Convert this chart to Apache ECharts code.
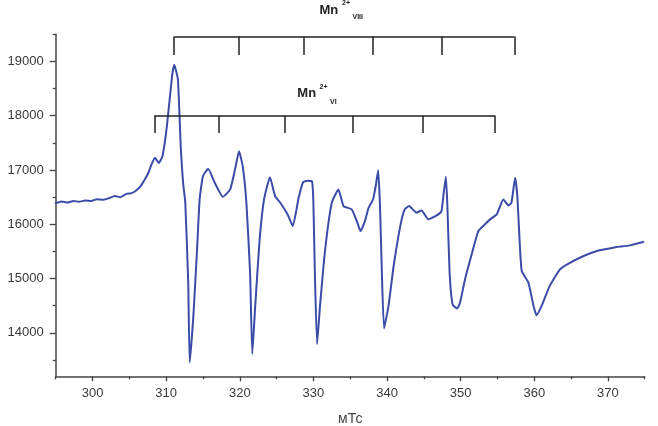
<!DOCTYPE html>
<html><head><meta charset="utf-8">
<script src="https://cdn.jsdelivr.net/npm/echarts@6/dist/echarts.min.js"></script>
<style>html,body{margin:0;padding:0;background:#fff}#c{width:658px;height:426px}</style>
</head><body><div id="c"></div>
<script>
// Magnetic field, mT
const fieldMT = [295.0,295.8,296.6,297.4,298.2,299.0,299.8,300.6,301.4,302.2,303.05,303.8,304.6,305.2,305.8,306.5,307.1,307.6,308.0,308.5,309.0,309.5,310.1,310.8,311.1,311.6,312.0,312.3,312.6,313.0,313.2,313.7,314.2,314.55,315.0,315.7,316.6,317.7,318.7,319.4,319.9,320.4,320.9,321.4,321.7,322.1,322.7,323.3,324.1,324.8,325.5,326.5,327.2,328.0,328.6,329.2,329.8,330.0,330.2,330.5,330.9,331.6,332.5,333.4,334.1,335.2,335.9,336.4,337.0,337.5,338.1,338.5,338.8,339.05,339.3,339.6,340.2,340.9,341.8,342.4,343.0,344.0,344.7,345.6,346.75,347.4,347.7,348.0,348.2,348.5,348.9,349.5,349.9,350.6,351.5,352.4,353.3,354.0,354.9,355.8,356.5,356.9,357.4,357.7,358.0,358.3,359.2,359.9,360.3,361.0,362.1,363.5,364.9,366.7,368.5,370.7,373.0,374.8];
// EPR signal intensity
const intensity = [16390,16420,16400,16430,16415,16440,16430,16460,16450,16480,16520,16500,16560,16570,16610,16700,16826,16950,17100,17224,17130,17254,17805,18724,18940,18664,17377,16765,16400,14927,13457,14313,15539,16458,16886,17022,16765,16507,16642,17040,17346,17070,16397,15111,13610,14497,15723,16458,16868,16519,16397,16182,15967,16489,16776,16800,16794,16397,15111,13793,14497,15539,16397,16642,16335,16274,16059,15875,16059,16305,16458,16734,16997,16335,15111,14082,14497,15232,15967,16274,16335,16214,16256,16091,16164,16243,16581,16875,16335,15111,14528,14449,14546,14988,15447,15875,16000,16091,16182,16458,16348,16397,16857,16519,15723,15141,14927,14497,14326,14497,14865,15171,15294,15416,15508,15570,15612,15673];

const xTickLabels = [300,310,320,330,340,350,360,370];
const xMinorTicks = [295,305,315,325,335,345,355,365,375];
const yTickLabels = [14000,15000,16000,17000,18000,19000];
const yMinorTicks = [13500,14500,15500,16500,17500,18500,19500];

// Hyperfine sextet markers
const mnVIIIPos = [311.1,319.8,328.7,338.0,347.5,357.3];
const mnVIIILevel = 19460, mnVIIITickEnd = 19120;
const mnVIPos = [308.4,317.1,326.1,335.4,344.9,354.7];
const mnVILevel = 18000, mnVITickEnd = 17680;

function bracket(pos, level, tickEnd){
  const out = [[{coord:[pos[0],level]},{coord:[pos[pos.length-1],level]}]];
  pos.forEach(p=>out.push([{coord:[p,level]},{coord:[p,tickEnd]}]));
  return out;
}

const chart = echarts.init(document.getElementById('c'), null, {renderer:'canvas'});
const axisCol = '#444';
const lblStyle = {color:'#3a3a3a', fontSize:13, fontFamily:'Liberation Sans, Arial, sans-serif'};
chart.setOption({
  animation:false,
  grid:{left:55.7, right:13.3, top:34.3, bottom:49.7, containLabel:false, outerBoundsMode:'none'},
  xAxis:[{
    type:'value', min:295, max:375, position:'bottom',
    axisLine:{show:true, lineStyle:{color:axisCol, width:1.5}},
    axisTick:{show:true, inside:false, length:5, customValues:xTickLabels, lineStyle:{color:axisCol, width:1.3}},
    axisLabel:{...lblStyle, margin:11, customValues:xTickLabels, formatter:v=>String(v)},
    splitLine:{show:false},
    name:'мТс', nameLocation:'middle', nameGap:36,
    nameTextStyle:{color:'#444', fontSize:14, fontFamily:'Liberation Sans, Arial, sans-serif'}
  },{
    type:'value', min:295, max:375, position:'bottom',
    axisLine:{show:false},
    axisTick:{show:true, length:3, customValues:xMinorTicks, lineStyle:{color:axisCol, width:1.3}},
    axisLabel:{show:false}, splitLine:{show:false}
  }],
  yAxis:[{
    type:'value', min:13200, max:19500, position:'left',
    axisLine:{show:true, lineStyle:{color:axisCol, width:1.5}},
    axisTick:{show:true, length:6, customValues:yTickLabels, lineStyle:{color:axisCol, width:1.3}},
    axisLabel:{...lblStyle, margin:12, customValues:yTickLabels, formatter:v=>String(v)},
    splitLine:{show:false}
  },{
    type:'value', min:13200, max:19500, position:'left',
    axisLine:{show:false},
    axisTick:{show:true, length:3, customValues:yMinorTicks, lineStyle:{color:axisCol, width:1.3}},
    axisLabel:{show:false}, splitLine:{show:false}
  }],
  series:[{
    type:'line', xAxisIndex:0, yAxisIndex:0,
    data: fieldMT.map((x,i)=>[x,intensity[i]]),
    showSymbol:false, smooth:0.15,
    lineStyle:{color:'#3a4ca8', width:2, join:'round', cap:'round'}
  },{
    type:'line', xAxisIndex:0, yAxisIndex:0, data:[], silent:true,
    markLine:{
      silent:true, symbol:['none','none'], animation:false,
      label:{show:false},
      lineStyle:{color:'#222', width:1.5, type:'solid'},
      emphasis:{disabled:true},
      data: bracket(mnVIIIPos, mnVIIILevel, mnVIIITickEnd).concat(bracket(mnVIPos, mnVILevel, mnVITickEnd))
    }
  }],
  graphic:[
    {type:'text', left:319.5, top:3.5, style:{text:'Mn', font:'bold 13px Liberation Sans, Arial, sans-serif', fill:'#222'}},
    {type:'text', left:342, top:0, style:{text:'2+', font:'bold 7px Liberation Sans, Arial, sans-serif', fill:'#222'}},
    {type:'text', left:352.5, top:14, style:{text:'VIII', font:'bold 7px Liberation Sans, Arial, sans-serif', fill:'#222'}},
    {type:'text', left:297.3, top:86.5, style:{text:'Mn', font:'bold 13px Liberation Sans, Arial, sans-serif', fill:'#222'}},
    {type:'text', left:319.5, top:83.5, style:{text:'2+', font:'bold 7px Liberation Sans, Arial, sans-serif', fill:'#222'}},
    {type:'text', left:330, top:99, style:{text:'VI', font:'bold 7px Liberation Sans, Arial, sans-serif', fill:'#222'}}
  ]
});
</script></body></html>
